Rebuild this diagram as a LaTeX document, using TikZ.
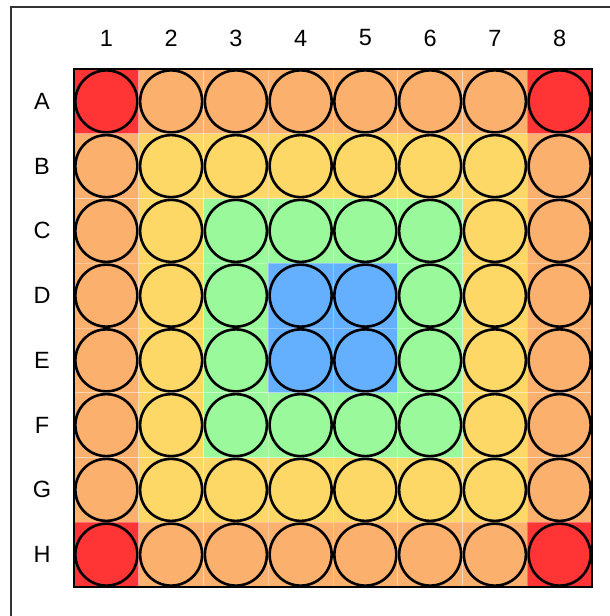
\documentclass[tikz,border=0pt]{standalone}
\usepackage{fontspec}
\setmainfont{Liberation Sans}
\usepackage{xcolor}
\usetikzlibrary{positioning}
\definecolor{wellred}{HTML}{FF3535}
\definecolor{wellorange}{HTML}{FBB06E}
\definecolor{wellyellow}{HTML}{FDD866}
\definecolor{wellgreen}{HTML}{9AF99A}
\definecolor{wellblue}{HTML}{64B0FF}

\begin{document}
\begin{tikzpicture}[x=1pt, y=-1pt,
    well/.style={circle, draw=black, line width=2.6pt, minimum size=62pt, inner sep=0pt},
    axislabel/.style={font=\fontsize{23.5}{27}\selectfont, inner sep=0pt}]
    \useasboundingbox (0,0) rectangle (610,616);
    \draw[line width=2pt, black!80] (11,7) rectangle (650,650);
    % wells, ring by ring from the edge
    \foreach \r [count=\i] in {A,B,C,D,E,F,G,H}{
      \node[axislabel] (row-\r) at (42,{69+(\i-0.5)*64.75}) {\r};
      \foreach \c in {1,...,8}{
        \pgfmathtruncatemacro\d{min(\i-1,\c-1,8-\i,8-\c)}
        \pgfmathtruncatemacro\corner{(\i==1||\i==8)&&(\c==1||\c==8)}
        \ifnum\corner=1 \def\wc{wellred}\else
          \ifcase\d\def\wc{wellorange}\or\def\wc{wellyellow}\or\def\wc{wellgreen}\else\def\wc{wellblue}\fi
        \fi
        \fill[\wc] ({74+(\c-1)*64.75},{69+(\i-1)*64.75}) rectangle ++(64.75,64.75);
        \draw[white, opacity=0.3, line width=0.6pt] ({74+(\c-1)*64.75},{69+(\i-1)*64.75}) rectangle ++(64.75,64.75);
        \node[well, fill=\wc] (well-\r\c) at ({74+(\c-0.5)*64.75},{69+(\i-0.5)*64.75}) {};
      }
    }
    \foreach \c in {1,...,8}
      \node[axislabel] (col-\c) at ({74+(\c-0.5)*64.75},38) {\c};
    \draw[line width=2pt] (74,69) rectangle (592,587);
  \end{tikzpicture}
\end{document}
